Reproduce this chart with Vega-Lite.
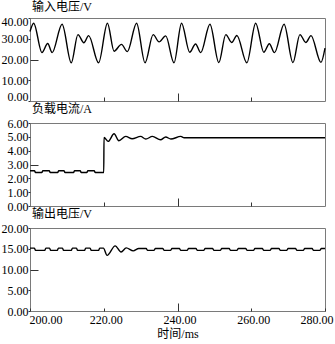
{
  "$schema": "https://vega.github.io/schema/vega-lite/v6.json",
  "padding": {"left": 0, "top": 0, "right": 0, "bottom": 0},
  "spacing": 22,
  "bounds": "flush",
  "config": {
    "font": "Liberation Serif",
    "view": {"stroke": "#7a7a7a", "strokeWidth": 1},
    "axis": {
      "labelFont": "Liberation Serif", "labelFontSize": 12, "labelColor": "#000",
      "domain": false, "grid": false, "tickColor": "#333", "tickWidth": 1,
      "titleFont": "Liberation Serif, Noto Sans CJK SC", "titleFontSize": 12,
      "titleFontWeight": "normal", "titleColor": "#000"
    },
    "title": {"font": "Liberation Serif, Noto Sans CJK SC", "fontSize": 12, "fontWeight": "normal", "anchor": "start", "frame": "group", "offset": 1, "color": "#000", "dx": 2},
    "line": {"color": "#000", "strokeWidth": 1.4}
  },
  "datasets": {
    "vin": [
      {"t": 200.0, "v": 33.5}, {"t": 201.0, "v": 37.5}, {"t": 203.25, "v": 23.3}, {"t": 204.8, "v": 27.7},
      {"t": 206.0, "v": 23.3}, {"t": 208.7, "v": 37.0}, {"t": 211.2, "v": 18.4}, {"t": 213.0, "v": 32.0},
      {"t": 214.6, "v": 28.1}, {"t": 215.9, "v": 31.5}, {"t": 218.6, "v": 18.4}, {"t": 221.0, "v": 37.5},
      {"t": 222.8, "v": 24.0}, {"t": 224.8, "v": 27.3}, {"t": 226.4, "v": 23.8}, {"t": 228.9, "v": 37.5},
      {"t": 231.2, "v": 18.4}, {"t": 233.4, "v": 32.0}, {"t": 235.0, "v": 28.5}, {"t": 236.8, "v": 31.4},
      {"t": 239.05, "v": 18.4}, {"t": 241.1, "v": 37.5}, {"t": 243.3, "v": 23.5}, {"t": 244.9, "v": 27.5},
      {"t": 246.3, "v": 23.3}, {"t": 248.8, "v": 37.0}, {"t": 251.2, "v": 18.5}, {"t": 253.1, "v": 32.0},
      {"t": 254.7, "v": 28.2}, {"t": 256.1, "v": 31.6}, {"t": 258.8, "v": 18.4}, {"t": 261.2, "v": 37.5},
      {"t": 263.4, "v": 23.5}, {"t": 264.9, "v": 27.6}, {"t": 266.3, "v": 23.3}, {"t": 268.9, "v": 37.0},
      {"t": 271.3, "v": 18.5}, {"t": 273.2, "v": 32.0}, {"t": 274.8, "v": 28.2}, {"t": 276.2, "v": 31.5},
      {"t": 278.9, "v": 18.6}, {"t": 280.0, "v": 25.5}
    ],
    "iload": [
      {"t": 200.0, "v": 2.55}, {"t": 201.2, "v": 2.55}, {"t": 201.5, "v": 2.42}, {"t": 203.2, "v": 2.42},
      {"t": 203.5, "v": 2.55}, {"t": 205.2, "v": 2.55}, {"t": 205.5, "v": 2.42}, {"t": 207.5, "v": 2.42},
      {"t": 207.8, "v": 2.55}, {"t": 209.2, "v": 2.55}, {"t": 209.5, "v": 2.42}, {"t": 211.8, "v": 2.42},
      {"t": 212.1, "v": 2.55}, {"t": 213.6, "v": 2.55}, {"t": 213.9, "v": 2.42}, {"t": 215.4, "v": 2.42},
      {"t": 215.7, "v": 2.55}, {"t": 217.4, "v": 2.55}, {"t": 217.7, "v": 2.42}, {"t": 220.0, "v": 2.42},
      {"t": 220.07, "v": 4.95}, {"t": 221.2, "v": 4.67}, {"t": 222.8, "v": 5.22}, {"t": 224.1, "v": 4.72},
      {"t": 225.95, "v": 5.03}, {"t": 227.7, "v": 4.86}, {"t": 230.0, "v": 5.03}, {"t": 231.4, "v": 4.84},
      {"t": 233.2, "v": 5.03}, {"t": 235.4, "v": 4.79}, {"t": 236.8, "v": 4.99}, {"t": 238.2, "v": 4.84},
      {"t": 240.9, "v": 5.03}, {"t": 241.8, "v": 4.93}, {"t": 280.0, "v": 4.93}
    ],
    "vout": [
      {"t": 200.0, "v": 15.15}, {"t": 201.2, "v": 15.15}, {"t": 201.5, "v": 14.6}, {"t": 204.0, "v": 14.6},
      {"t": 204.3, "v": 15.15}, {"t": 205.3, "v": 15.15}, {"t": 205.6, "v": 14.6}, {"t": 207.4, "v": 14.6},
      {"t": 207.7, "v": 15.15}, {"t": 208.8, "v": 15.15}, {"t": 209.1, "v": 14.6}, {"t": 211.2, "v": 14.6},
      {"t": 211.5, "v": 15.15}, {"t": 212.6, "v": 15.15}, {"t": 212.9, "v": 14.6}, {"t": 214.8, "v": 14.6},
      {"t": 215.1, "v": 15.15}, {"t": 216.3, "v": 15.15}, {"t": 216.6, "v": 14.6}, {"t": 218.6, "v": 14.6},
      {"t": 218.9, "v": 15.15}, {"t": 219.9, "v": 15.15}, {"t": 220.9, "v": 13.4}, {"t": 223.1, "v": 15.7},
      {"t": 224.7, "v": 14.2}, {"t": 226.1, "v": 15.2}, {"t": 228.0, "v": 14.5}, {"t": 229.5, "v": 15.05},
      {"t": 231.5, "v": 15.05}, {"t": 231.9, "v": 14.6}, {"t": 233.6, "v": 14.6}, {"t": 234.0, "v": 15.05},
      {"t": 236.0, "v": 15.05}, {"t": 236.4, "v": 14.6}, {"t": 238.1, "v": 14.6}, {"t": 238.5, "v": 15.05},
      {"t": 240.5, "v": 15.05}, {"t": 240.9, "v": 14.6}, {"t": 242.6, "v": 14.6}, {"t": 243.0, "v": 15.05},
      {"t": 245.0, "v": 15.05}, {"t": 245.4, "v": 14.6}, {"t": 247.1, "v": 14.6}, {"t": 247.5, "v": 15.05},
      {"t": 249.5, "v": 15.05}, {"t": 249.9, "v": 14.6}, {"t": 251.6, "v": 14.6}, {"t": 252.0, "v": 15.05},
      {"t": 254.0, "v": 15.05}, {"t": 254.4, "v": 14.6}, {"t": 256.1, "v": 14.6}, {"t": 256.5, "v": 15.05},
      {"t": 258.5, "v": 15.05}, {"t": 258.9, "v": 14.6}, {"t": 260.6, "v": 14.6}, {"t": 261.0, "v": 15.05},
      {"t": 263.0, "v": 15.05}, {"t": 263.4, "v": 14.6}, {"t": 265.1, "v": 14.6}, {"t": 265.5, "v": 15.05},
      {"t": 267.5, "v": 15.05}, {"t": 267.9, "v": 14.6}, {"t": 269.6, "v": 14.6}, {"t": 270.0, "v": 15.05},
      {"t": 272.0, "v": 15.05}, {"t": 272.4, "v": 14.6}, {"t": 274.1, "v": 14.6}, {"t": 274.5, "v": 15.05},
      {"t": 276.5, "v": 15.05}, {"t": 276.9, "v": 14.6}, {"t": 278.6, "v": 14.6}, {"t": 279.0, "v": 15.05},
      {"t": 280.0, "v": 15.05}
    ]
  },
  "vconcat": [
    {
      "title": {"text": "输入电压/V"},
      "width": 295, "height": 83,
      "data": {"name": "vin"},
      "mark": {"type": "line", "interpolate": "monotone"},
      "encoding": {
        "x": {"field": "t", "type": "quantitative", "scale": {"domain": [200, 280], "nice": false},
          "axis": {"values": [220, 240, 260], "labels": false, "title": null,
            "tickSize": {"condition": {"test": "datum.value === 240", "value": -8}, "value": -4}}},
        "y": {"field": "v", "type": "quantitative", "scale": {"domain": [0, 40], "nice": false},
          "axis": {"values": [0, 10, 20, 30, 40], "format": ".2f", "title": null,
            "labelFlush": true, "labelFlushOffset": 2,
            "labelPadding": {"condition": {"test": "datum.value === 20", "value": 10}, "value": 0},
            "tickSize": {"condition": {"test": "datum.value === 20", "value": -8}, "value": 2}}}
      }
    },
    {
      "title": {"text": "负载电流/A"},
      "width": 295, "height": 83,
      "data": {"name": "iload"},
      "mark": {"type": "line", "interpolate": "monotone"},
      "encoding": {
        "x": {"field": "t", "type": "quantitative", "scale": {"domain": [200, 280], "nice": false},
          "axis": {"values": [220, 240, 260], "labels": false, "title": null,
            "tickSize": {"condition": {"test": "datum.value === 240", "value": -8}, "value": -4}}},
        "y": {"field": "v", "type": "quantitative", "scale": {"domain": [0, 6], "nice": false},
          "axis": {"values": [0, 1, 2, 3, 4, 5, 6], "format": ".2f", "title": null,
            "labelPadding": {"condition": {"test": "datum.value === 3", "value": 10}, "value": 0},
            "tickSize": {"condition": {"test": "datum.value === 3", "value": -8}, "value": 2}}}
      }
    },
    {
      "title": {"text": "输出电压/V"},
      "width": 295, "height": 83,
      "data": {"name": "vout"},
      "mark": {"type": "line", "interpolate": "monotone"},
      "encoding": {
        "x": {"field": "t", "type": "quantitative", "scale": {"domain": [200, 280], "nice": false},
          "axis": {"values": [200, 220, 240, 260, 280], "format": ".2f", "title": "时间/ms",
            "labelFlush": true, "labelFlushOffset": 3,
            "labelOffset": {"condition": {"test": "datum.value === 280", "value": 5}, "value": 2},
            "labelPadding": {"condition": {"test": "datum.value === 240", "value": 11}, "value": 6},
            "titlePadding": 3,
            "tickSize": {"condition": {"test": "datum.value === 240", "value": -8}, "value": -3}}},
        "y": {"field": "v", "type": "quantitative", "scale": {"domain": [0, 20], "nice": false},
          "axis": {"values": [0, 5, 10, 15, 20], "format": ".2f", "title": null,
            "labelPadding": {"condition": {"test": "datum.value === 10", "value": 10}, "value": 0},
            "tickSize": {"condition": {"test": "datum.value === 10", "value": -8}, "value": 2}}}
      }
    }
  ]
}
